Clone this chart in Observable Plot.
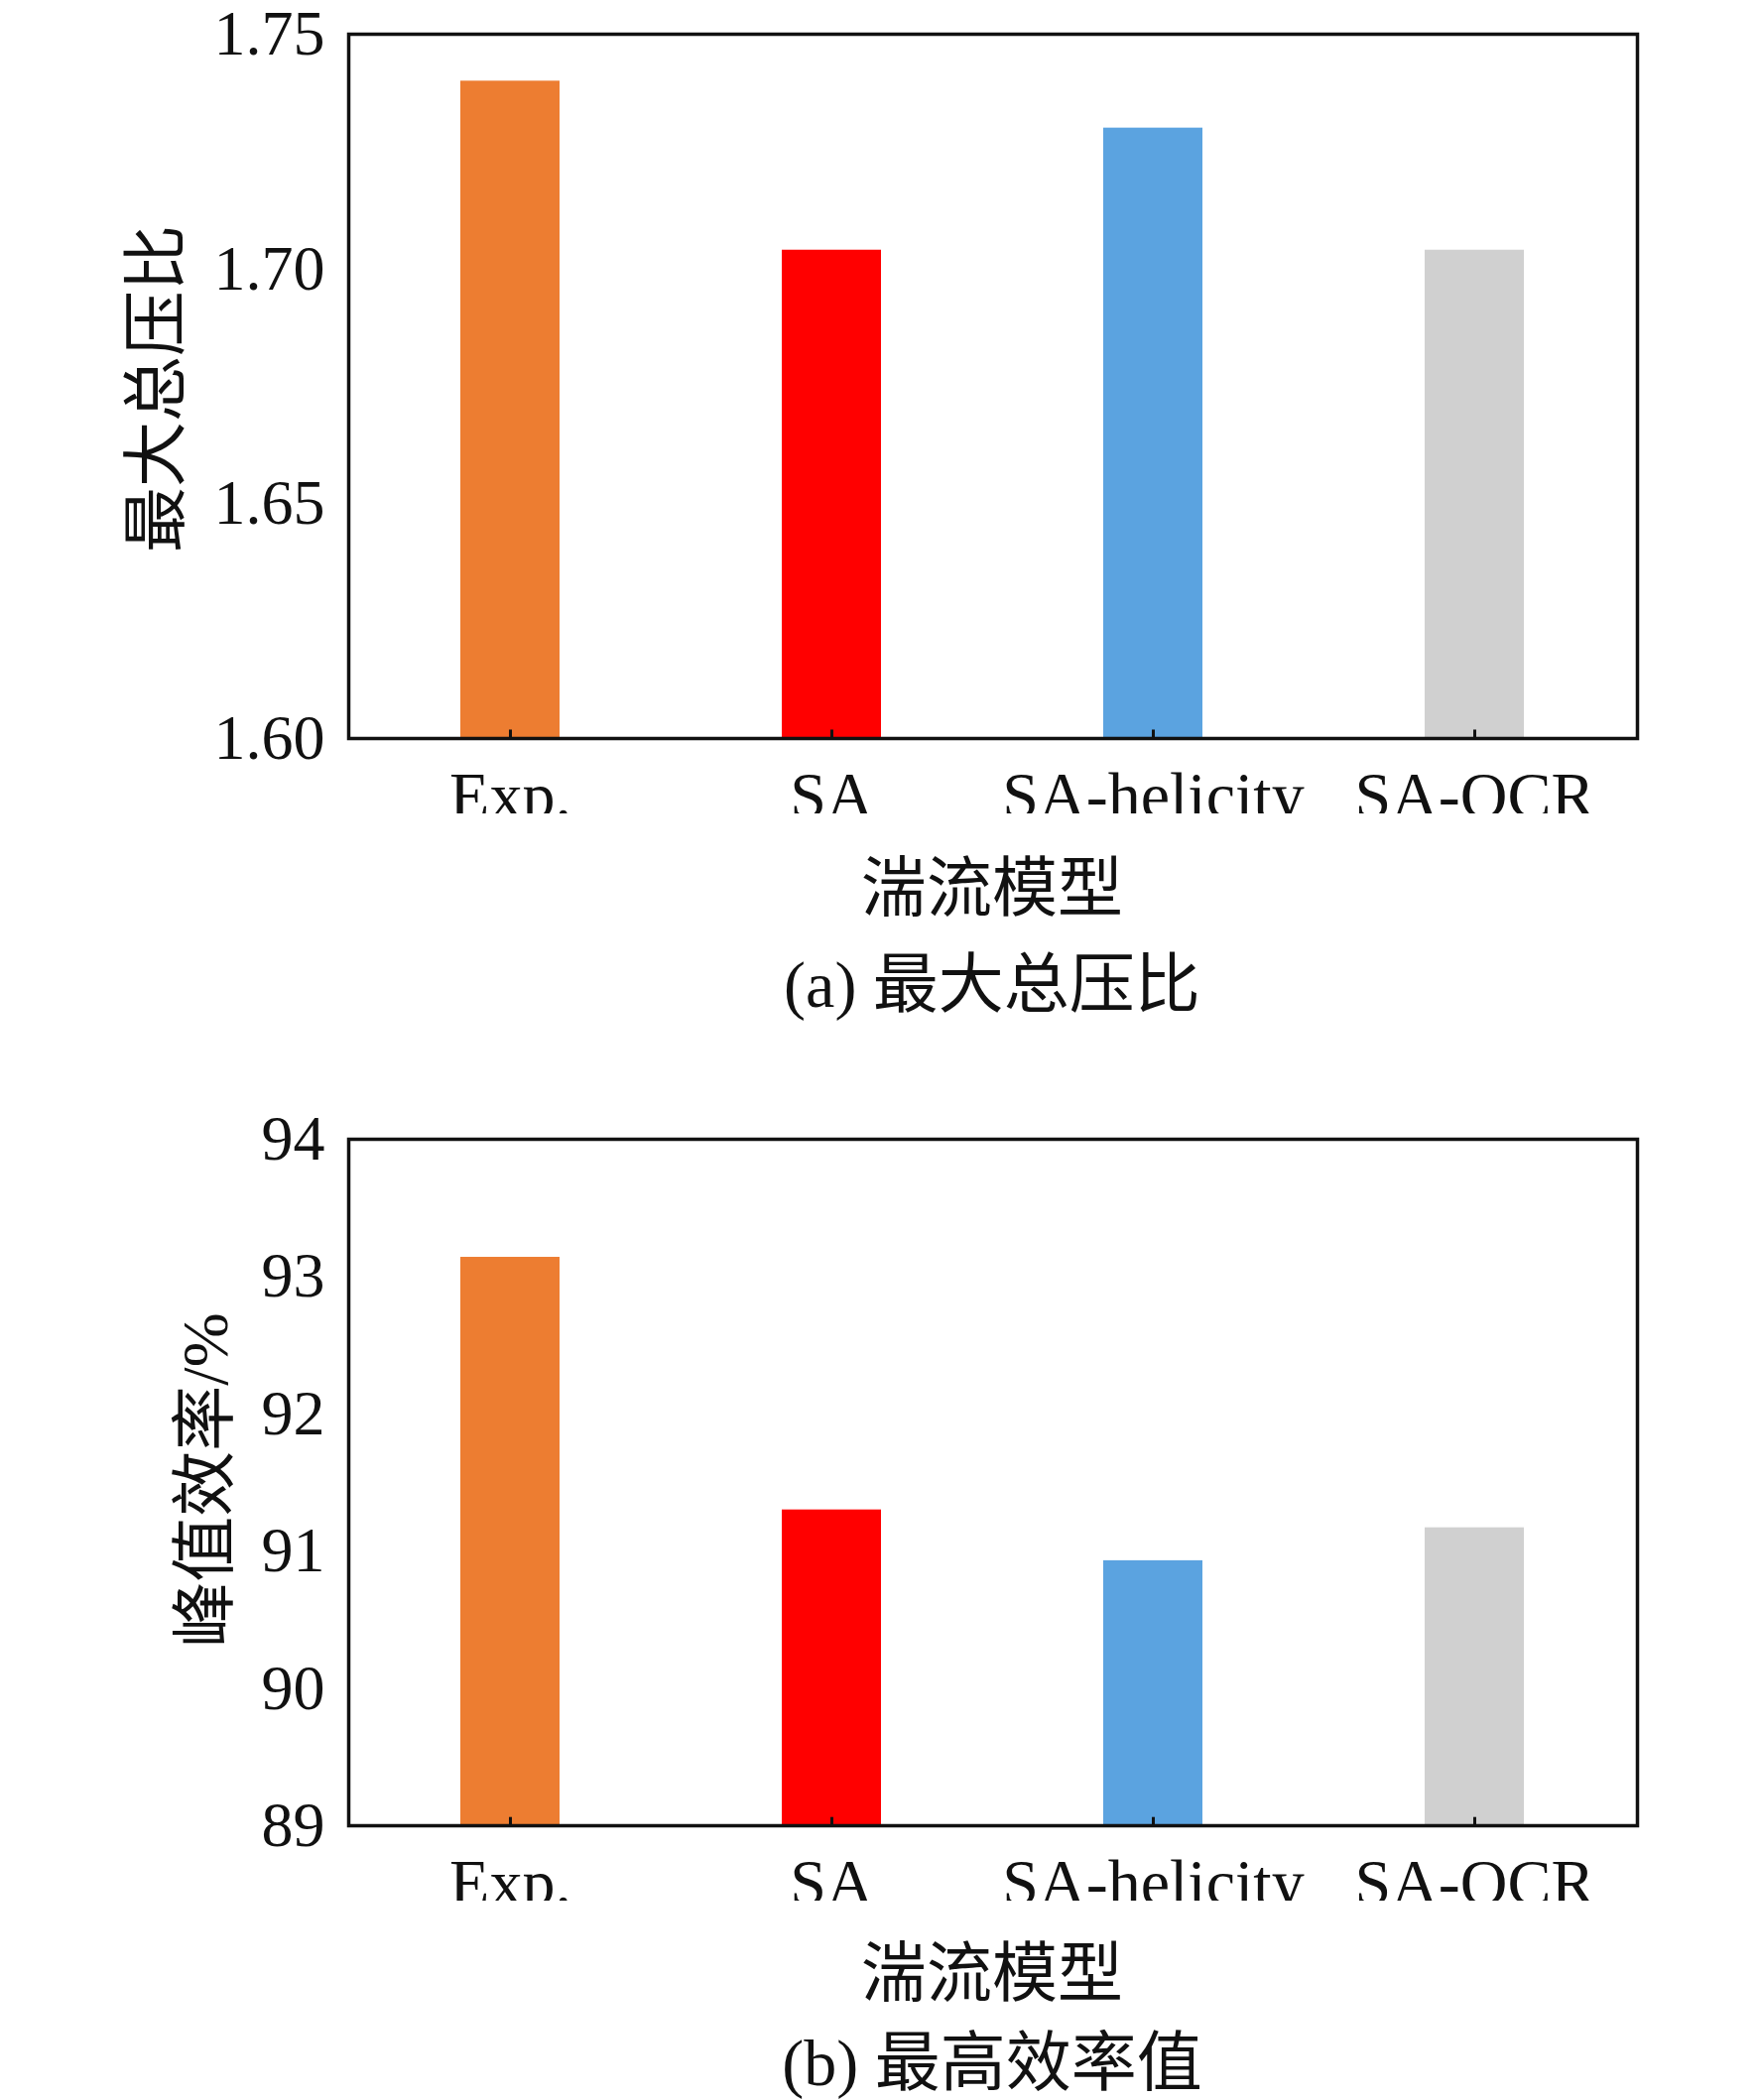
<!DOCTYPE html>
<html><head><meta charset="utf-8">
<script src="https://cdn.jsdelivr.net/npm/d3@7"></script>
<script src="https://cdn.jsdelivr.net/npm/@observablehq/plot@0.6"></script>
<style>
body{margin:0;background:#fff;width:1772px;height:2117px;position:relative;overflow:hidden}
.c{position:absolute}
.t{position:absolute;font-family:"Liberation Serif","Noto Sans CJK SC",serif;font-size:66px;color:#111;white-space:nowrap;transform:translate(-50%,-50%)}
.r{transform:translate(-50%,-50%) rotate(-90deg)}
</style></head><body>
<div id="a" class="c" style="left:0;top:0"></div>
<div id="b" class="c" style="left:0;top:1114px"></div>
<div class="t r" style="left:151px;top:392px">最大总压比</div>
<div class="t" style="left:1000px;top:889px">湍流模型</div>
<div class="t" style="left:1000px;top:986px">(a) 最大总压比</div>
<div class="t r" style="left:200px;top:1492px">峰值效率/%</div>
<div class="t" style="left:1000px;top:1983px">湍流模型</div>
<div class="t" style="left:1000px;top:2073px">(b) 最高效率值</div>
<script>
const models = ["Exp.", "SA", "SA-helicity", "SA-QCR"];
const colors = ["#ED7D31", "#FF0000", "#5BA3E0", "#D0D0D0"];
const pressureRatio = [1.740, 1.704, 1.730, 1.704];
const efficiency = [93.14, 91.30, 90.93, 91.17];
const prTicks = [1.60, 1.65, 1.70, 1.75];
const effTicks = [89, 90, 91, 92, 93, 94];

function chart(vals, domain, ticks, fmt, height){
  const data = models.map((m,i)=>({m, v:vals[i], c:colors[i]}));
  const tickLen = (domain[1]-domain[0])*0.012;
  return Plot.plot({
    width:1772, height,
    marginTop:34, marginLeft:351, marginRight:122, marginBottom:76,
    style:{fontFamily:"Liberation Serif, serif", fontSize:"64px", color:"#111", background:"transparent"},
    x:{domain:models, paddingInner:0.69, paddingOuter:0.345, label:null},
    y:{domain, label:null},
    marks:[
      Plot.barY(data,{x:"m", y1:domain[0], y2:"v", fill:"c"}),
      Plot.ruleX(models,{x:d=>d, y1:domain[0], y2:domain[0]+tickLen, stroke:"#111", strokeWidth:3}),
      Plot.frame({stroke:"#111", strokeWidth:3.5}),
      Plot.axisX({tickSize:0, tickPadding:33, fontSize:66}),
      Plot.axisY({ticks, tickFormat:fmt, tickSize:0, tickPadding:24})
    ]
  });
}
document.getElementById("a").append(chart(pressureRatio,[1.60,1.75],prTicks,d3.format(".2f"),820));
document.getElementById("b").append(chart(efficiency,[89,94],effTicks,d3.format("d"),802));
</script>
</body></html>
